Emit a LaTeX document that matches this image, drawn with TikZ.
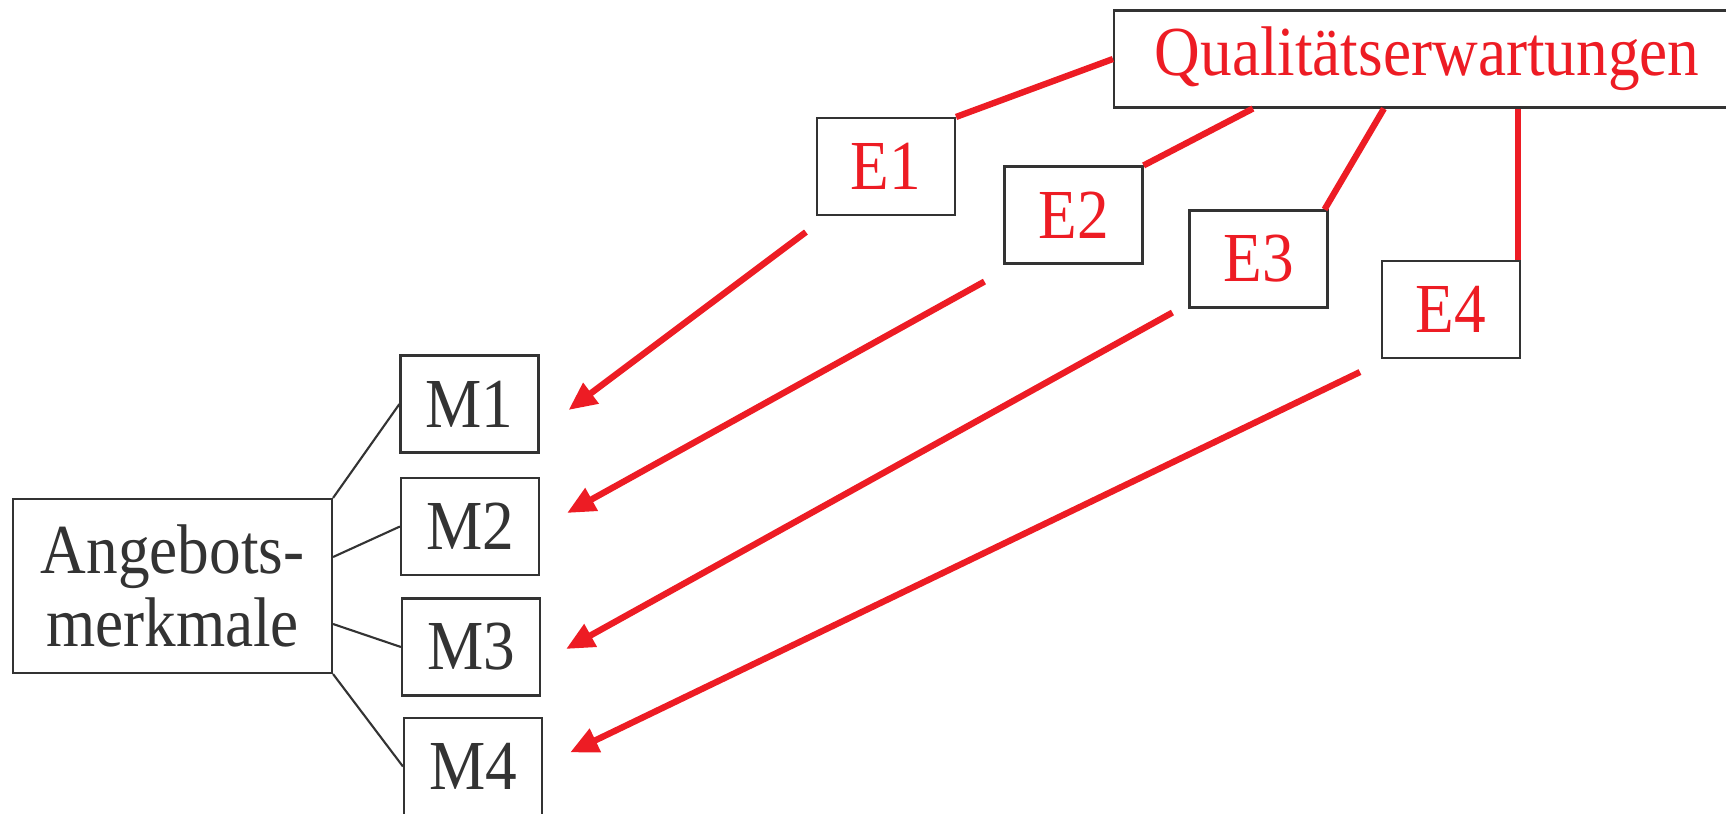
\documentclass[tikz,border=0pt]{standalone}
\usepackage{fontspec}
\setmainfont{Liberation Serif}[FakeStretch=0.9]
\usetikzlibrary{%
  arrows.meta,%
  positioning,%
  calc%
}
\definecolor{erwred}{HTML}{ED1C24}
\definecolor{boxgray}{HTML}{333333}

\begin{document}
\begin{tikzpicture}
  [
  font=\fontsize{20}{21}\selectfont,
  line width=0.6pt,
  draw=boxgray, >={Triangle[length=8pt,width=7pt]},
  mbox/.style={rectangle, inner sep = 0pt, minimum width = 1.38cm, minimum height = 0.97cm, draw=boxgray, text=boxgray},
  ebox/.style={mbox, text=erwred},
  redline/.style={draw=erwred, line width=1.8pt},
  ]
\useasboundingbox (0,0) rectangle (17.26,-8.14);

% Angebotsmerkmale
\node[mbox, minimum width=3.19cm, minimum height=1.74cm, align=center] (A) at (1.725,-5.86) {Angebots-\\merkmale};
\node[mbox] (M1) at (4.695,-4.04) {M1};
\node[mbox] (M2) at (4.70,-5.265) {M2};
\node[mbox] (M3) at (4.71,-6.47) {M3};
\node[mbox] (M4) at (4.73,-7.665) {M4};

\draw[draw=boxgray] (A.north east) -- (M1.west);
\draw[draw=boxgray] ([yshift=0.29cm]A.east) -- (M2.west);
\draw[draw=boxgray] ([yshift=-0.38cm]A.east) -- (M3.west);
\draw[draw=boxgray] (A.south east) -- (M4.west);

% Erwartungen
\node[ebox, minimum width=6.26cm] (Q) at (14.27,-0.59) {Qualitätserwartungen};
\node[ebox] (E1) at (8.86,-1.665) {E1};
\node[ebox] (E2) at (10.735,-2.15) {E2};
\node[ebox] (E3) at (12.585,-2.59) {E3};
\node[ebox] (E4) at (14.51,-3.095) {E4};

\draw[redline] (Q.west) -- (E1.north east);
\draw[redline] ([xshift=1.40cm]Q.south west) -- (E2.north east);
\draw[redline] ([xshift=2.71cm]Q.south west) -- ([xshift=-0.04cm]E3.north east);
\draw[redline] ([xshift=-0.03cm]E4.north east) -- ([xshift=-0.03cm]E4.north east |- Q.south);

% Zuordnung
\draw[redline,->] ([shift={(-0.10,-0.16)}]E1.south west) -- ([shift={(0.29,-0.06)}]M1.east);
\draw[redline,->] ([shift={(-0.19,-0.17)}]E2.south west) -- ([shift={(0.27,0.135)}]M2.east);
\draw[redline,->] ([shift={(-0.16,-0.04)}]E3.south west) -- ([shift={(0.25,-0.02)}]M3.east);
\draw[redline,->] ([shift={(-0.21,-0.13)}]E4.south west) -- ([shift={(0.27,0.14)}]M4.east);
\end{tikzpicture}
\end{document}
